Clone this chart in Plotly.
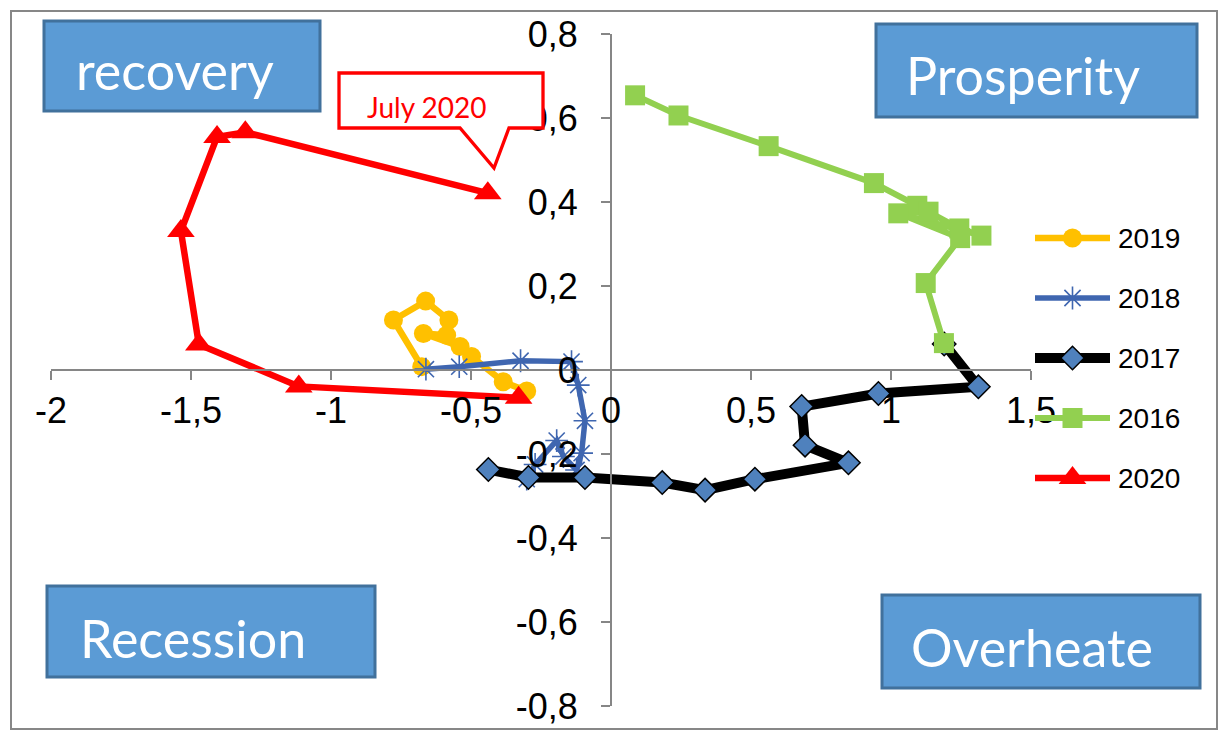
import plotly.graph_objects as go

# the page adds an 8px body margin, so the figure is a bit smaller and
# every pixel position below is shifted by OFF
OFF = 8
W, H = 1230 - OFF, 738 - OFF

# values, month by month
x2016 = [0.086, 0.241, 0.563, 0.939, 1.094, 1.134, 1.244, 1.323, 1.026, 1.247, 1.124, 1.189]
y2016 = [0.654, 0.606, 0.533, 0.445, 0.391, 0.377, 0.337, 0.320, 0.373, 0.314, 0.207, 0.064]

x2017 = [1.190, 1.312, 0.955, 0.681, 0.693, 0.848, 0.514, 0.336, 0.183, -0.093, -0.295, -0.438]
y2017 = [0.062, -0.040, -0.056, -0.087, -0.179, -0.221, -0.260, -0.286, -0.268, -0.256, -0.256, -0.237]

x2018 = [-0.301, -0.271, -0.194, -0.170, -0.123, -0.105, -0.093, -0.117, -0.141, -0.323, -0.542, -0.661]
y2018 = [-0.260, -0.225, -0.168, -0.206, -0.238, -0.198, -0.121, -0.036, 0.020, 0.022, 0.008, 0.002]

x2019 = [-0.676, -0.777, -0.662, -0.579, -0.587, -0.670, -0.539, -0.498, -0.385, -0.301]
y2019 = [0.008, 0.119, 0.164, 0.119, 0.083, 0.087, 0.056, 0.032, -0.028, -0.050]

x2020 = [-0.330, -1.115, -1.472, -1.536, -1.407, -1.306, -0.440]
y2020 = [-0.066, -0.039, 0.061, 0.331, 0.555, 0.566, 0.421]

xticks = [-2, -1.5, -1, -0.5, 0, 0.5, 1, 1.5]
xticktext = ["-2", "-1,5", "-1", "-0,5", "0", "0,5", "1", "1,5"]
yticks = [-0.8, -0.6, -0.4, -0.2, 0, 0.2, 0.4, 0.6, 0.8]
yticktext = ["-0,8", "-0,6", "-0,4", "-0,2", "0", "0,2", "0,4", "0,6", "0,8"]

# series in Excel order (legend order), later ones drawn on top
series = [
    dict(name="2019", x=x2019, y=y2019, color="#FFC000", width=6.5,
         marker=dict(symbol="circle", size=19, color="#FFC000")),
    dict(name="2018", x=x2018, y=y2018, color="#3F66B0", width=5.5,
         marker=dict(symbol="asterisk-open", size=19, color="#3F66B0",
                     line=dict(color="#3F66B0", width=1.6))),
    dict(name="2017", x=x2017, y=y2017, color="#000000", width=10,
         marker=dict(symbol="diamond", size=18, color="#4F81BD",
                     line=dict(color="#000000", width=1.5))),
    dict(name="2016", x=x2016, y=y2016, color="#92D050", width=6,
         marker=dict(symbol="square", size=20, color="#92D050")),
    dict(name="2020", x=x2020, y=y2020, color="#FF0000", width=6.5,
         marker=dict(symbol="triangle-up", size=24, color="#FF0000")),
]


def px(v):
    return (v - OFF) / W


def py(v):
    return 1 - (v - OFF) / H


# plot area in page pixels
X0, X1, Y0, Y1 = 51, 1031, 34, 706
xr = [-2, 1.5]
yr = [-0.8, 0.8]
xpos0 = X0 + (0 - xr[0]) / (xr[1] - xr[0]) * (X1 - X0)
ypos0 = Y1 - (0 - yr[0]) / (yr[1] - yr[0]) * (Y1 - Y0)

fig = go.Figure()

for s in series:
    fig.add_trace(go.Scatter(
        x=s["x"], y=s["y"], name=s["name"], mode="lines+markers",
        line=dict(color=s["color"], width=s["width"]),
        marker=s["marker"], showlegend=False,
    ))

# hand made legend on its own little axes
legend_rows = ["2019", "2018", "2017", "2016", "2020"]
for s in series:
    row = legend_rows.index(s["name"])
    fig.add_trace(go.Scatter(
        x=[0, 2], y=[row, row], mode="lines", xaxis="x2", yaxis="y2",
        line=dict(color=s["color"], width=s["width"]), showlegend=False,
        hoverinfo="skip",
    ))
    fig.add_trace(go.Scatter(
        x=[1], y=[row], mode="markers", xaxis="x2", yaxis="y2",
        marker=s["marker"], showlegend=False, hoverinfo="skip",
    ))

axis_col = "#868686"
tick_font = dict(family="Liberation Sans, Arial", size=36, color="#000000")

fig.update_layout(
    width=W, height=H,
    margin=dict(l=0, r=0, t=0, b=0),
    paper_bgcolor="white", plot_bgcolor="white",
    showlegend=False,
    xaxis=dict(
        domain=[px(X0), px(X1)], range=xr, anchor="free", position=py(ypos0),
        showline=True, linecolor=axis_col, linewidth=2, showgrid=False, zeroline=False,
        tickvals=xticks, ticktext=xticktext, ticks="outside", ticklen=9,
        tickwidth=1.5, tickcolor=axis_col, tickfont=tick_font,
        ticklabelstandoff=0, automargin=False,
    ),
    yaxis=dict(
        domain=[py(Y1), py(Y0)], range=yr, anchor="free", position=px(xpos0),
        showline=True, linecolor=axis_col, linewidth=2, showgrid=False, zeroline=False,
        tickvals=yticks, ticktext=yticktext, ticks="outside", ticklen=9,
        tickwidth=1.5, tickcolor=axis_col, tickfont=tick_font,
        ticklabelstandoff=16, automargin=False,
    ),
    xaxis2=dict(domain=[px(1035), px(1110)], range=[0, 2], anchor="y2",
                visible=False, fixedrange=True),
    yaxis2=dict(domain=[py(508), py(208)], range=[4.5, -0.5], anchor="x2",
                visible=False, fixedrange=True),
)

shapes = []
annotations = []

# outer chart border
shapes.append(dict(type="rect", xref="paper", yref="paper",
                   x0=px(11), x1=px(1217), y0=py(729), y1=py(11),
                   line=dict(color="#878787", width=2), layer="below"))

# quadrant boxes: label, box (l, t, r, b), text left x, text centre y
quadrants = [
    ("recovery", (44, 21, 320, 111), 74, 70),
    ("Prosperity", (876, 24, 1197, 117), 904, 75),
    ("Recession", (47, 586, 375, 677), 78, 638),
    ("Overheate", (882, 595, 1200, 688), 909, 647),
]
for label, (l, t, r, b), tx, ty in quadrants:
    shapes.append(dict(type="rect", xref="paper", yref="paper",
                       x0=px(l), x1=px(r), y0=py(b), y1=py(t),
                       fillcolor="#5B9BD5", line=dict(color="#41719C", width=3),
                       layer="above"))
    annotations.append(dict(text=label, xref="paper", yref="paper",
                            x=px(tx), y=py(ty), xanchor="left", yanchor="middle",
                            showarrow=False,
                            font=dict(family="Lato", size=52, color="white")))

# callout for the last 2020 point
callout = [(339, 73), (543, 73), (543, 128), (509, 128), (494, 168), (460, 128), (339, 128)]
path = "M " + " L ".join(f"{px(a):.5f},{py(b):.5f}" for a, b in callout) + " Z"
shapes.append(dict(type="path", xref="paper", yref="paper", path=path,
                   fillcolor="white", line=dict(color="#FF0000", width=3.3), layer="above"))
annotations.append(dict(text="July 2020", xref="paper", yref="paper",
                        x=px(427), y=py(107), xanchor="center", yanchor="middle",
                        showarrow=False,
                        font=dict(family="Lato", size=28, color="#FF0000")))

# legend labels
for row, name in enumerate(legend_rows):
    annotations.append(dict(text=name, xref="paper", yref="y2", x=px(1116), y=row,
                            xanchor="left", yanchor="middle", showarrow=False,
                            font=dict(family="Liberation Sans, Arial", size=28, color="#000000")))

fig.update_layout(shapes=shapes, annotations=annotations)

fig.write_html("out.html")
